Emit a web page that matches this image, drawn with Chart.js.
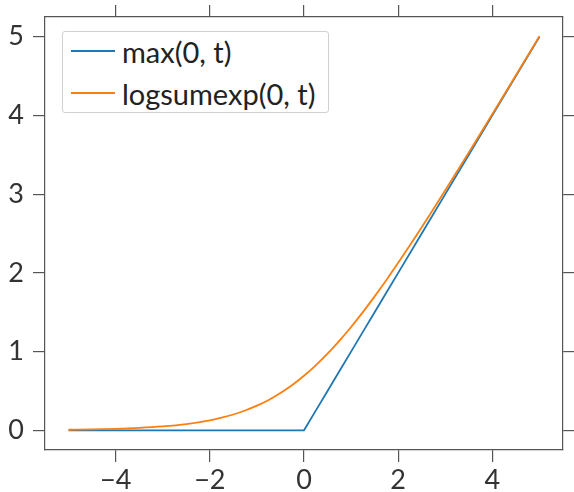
<!DOCTYPE html>
<html>
<head>
<meta charset="utf-8">
<script src="https://cdn.jsdelivr.net/npm/chart.js@4"></script>
<style>
  body { margin: 0; background: #fff; }
  #wrap { position: relative; width: 574px; height: 492px; }
  #legend {
    position: absolute; left: 62px; top: 31px; width: 265px; height: 80px;
    border: 1px solid #d0d0d0; border-radius: 3px; background: #fff;
    font-family: Lato, sans-serif; font-size: 29px; color: #222;
  }
  #legend div { position: absolute; left: 8px; display: flex; align-items: center; height: 36px; white-space: nowrap; }
  #legend span.sw { display: inline-block; width: 44px; height: 2px; margin-right: 7px; }
</style>
</head>
<body>
<div id="wrap">
  <canvas id="myChart" width="574" height="492"></canvas>
  <div id="legend"></div>
</div>
<script>
    // values
    var tValues   = [-5, -4.5, -4, -3.5, -3, -2.5, -2, -1.75, -1.5, -1.25, -1, -0.75, -0.5, -0.25, 0, 0.25, 0.5, 0.75, 1, 1.25, 1.5, 1.75, 2, 2.5, 3, 3.5, 4, 4.5, 5];
    var maxValues = [0, 0, 0, 0, 0, 0, 0, 0, 0, 0, 0, 0, 0, 0, 0, 0.25, 0.5, 0.75, 1, 1.25, 1.5, 1.75, 2, 2.5, 3, 3.5, 4, 4.5, 5];
    var lseValues = [0.007, 0.011, 0.018, 0.03, 0.049, 0.079, 0.127, 0.160, 0.201, 0.252, 0.313, 0.386, 0.474, 0.576, 0.693, 0.826, 0.974, 1.136, 1.313, 1.501, 1.701, 1.910, 2.127, 2.579, 3.049, 3.53, 4.018, 4.511, 5.007];
    var seriesNames = ['max(0, t)', 'logsumexp(0, t)'];
    var seriesColors = ['#1f77b4', '#ff7f0e'];
    var xTicks = [-4, -2, 0, 2, 4];
    var yTicks = [0, 1, 2, 3, 4, 5];

    function pts(ys) {
      return tValues.map(function (t, i) { return { x: t, y: ys[i] }; });
    }

    var tickFont = { family: 'Lato', size: 27 };
    function fmt(v) { return String(v).replace('-', '\u2212'); }
    function axis(pos, ticks, min, max, size, showLabels, pad) {
      return {
        type: 'linear', position: pos, min: min, max: max,
        grid: { drawOnChartArea: false, color: '#555', tickLength: 12, lineWidth: 1.2 },
        border: { display: true, color: '#555', width: 1.2 },
        ticks: { display: showLabels, font: tickFont, color: '#333', padding: pad, callback: fmt },
        afterBuildTicks: function (s) { s.ticks = ticks.map(function (v) { return { value: v }; }); },
        afterFit: function (s) {
          if (pos === 'left' || pos === 'right') s.width = size; else s.height = size;
          s.paddingTop = s.paddingBottom = s.paddingLeft = s.paddingRight = 0;
        }
      };
    }

    var data1 = {
      datasets: [{
        label: seriesNames[0],
        data: pts(maxValues),
        borderColor: seriesColors[0],
        borderWidth: 1.8,
        pointRadius: 0,
        showLine: true,
        order: 2
      }, {
        label: seriesNames[1],
        data: pts(lseValues),
        borderColor: seriesColors[1],
        borderWidth: 1.8,
        pointRadius: 0,
        showLine: true,
        cubicInterpolationMode: 'monotone',
        order: 1
      }]
    };

    var config1 = {
      type: 'scatter',
      data: data1,
      options: {
        responsive: false,
        animation: false,
        layout: { padding: 0 },
        plugins: { legend: { display: false }, tooltip: { enabled: false } },
        scales: {
          x: axis('bottom', xTicks, -5.5, 5.5, 42, true, 2),
          x2: axis('top', xTicks, -5.5, 5.5, 17, false, 0),
          y: axis('left', yTicks, -0.25, 5.25, 45, true, 9),
          y2: axis('right', yTicks, -0.25, 5.25, 11, false, 0)
        }
      }
    };

    var myChart1 = new Chart(document.getElementById('myChart'), config1);

    var legend = document.getElementById('legend');
    seriesNames.forEach(function (name, i) {
      var row = document.createElement('div');
      row.style.top = (i === 0 ? 1 : 43) + 'px';
      row.innerHTML = '<span class="sw" style="background:' + seriesColors[i] + '"></span>' + name;
      legend.appendChild(row);
    });
</script>
</body>
</html>
